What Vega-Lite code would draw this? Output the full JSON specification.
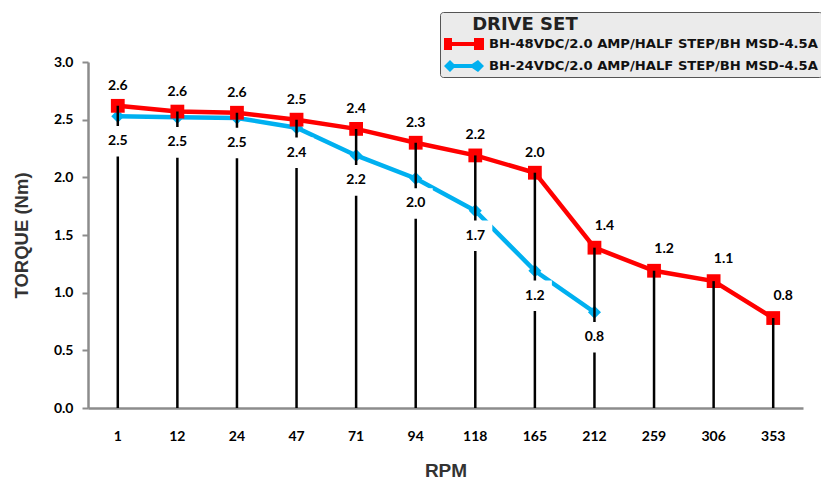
{
  "$schema": "https://vega.github.io/schema/vega-lite/v6.json",
  "width": 715,
  "height": 346,
  "autosize": {"type": "none"},
  "padding": {"left": 88, "top": 62, "right": 18, "bottom": 74},
  "background": "white",
  "config": {
    "view": {"stroke": null},
    "axis": {"grid": false}
  },
  "data": {
    "values": [
      {"rpm": "1", "series": "BH-48VDC/2.0 AMP/HALF STEP/BH MSD-4.5A", "torque": 2.62},
      {"rpm": "12", "series": "BH-48VDC/2.0 AMP/HALF STEP/BH MSD-4.5A", "torque": 2.57},
      {"rpm": "24", "series": "BH-48VDC/2.0 AMP/HALF STEP/BH MSD-4.5A", "torque": 2.56},
      {"rpm": "47", "series": "BH-48VDC/2.0 AMP/HALF STEP/BH MSD-4.5A", "torque": 2.5},
      {"rpm": "71", "series": "BH-48VDC/2.0 AMP/HALF STEP/BH MSD-4.5A", "torque": 2.42},
      {"rpm": "94", "series": "BH-48VDC/2.0 AMP/HALF STEP/BH MSD-4.5A", "torque": 2.3},
      {"rpm": "118", "series": "BH-48VDC/2.0 AMP/HALF STEP/BH MSD-4.5A", "torque": 2.19},
      {"rpm": "165", "series": "BH-48VDC/2.0 AMP/HALF STEP/BH MSD-4.5A", "torque": 2.04},
      {"rpm": "212", "series": "BH-48VDC/2.0 AMP/HALF STEP/BH MSD-4.5A", "torque": 1.39},
      {"rpm": "259", "series": "BH-48VDC/2.0 AMP/HALF STEP/BH MSD-4.5A", "torque": 1.19},
      {"rpm": "306", "series": "BH-48VDC/2.0 AMP/HALF STEP/BH MSD-4.5A", "torque": 1.1},
      {"rpm": "353", "series": "BH-48VDC/2.0 AMP/HALF STEP/BH MSD-4.5A", "torque": 0.78},
      {"rpm": "1", "series": "BH-24VDC/2.0 AMP/HALF STEP/BH MSD-4.5A", "torque": 2.53},
      {"rpm": "12", "series": "BH-24VDC/2.0 AMP/HALF STEP/BH MSD-4.5A", "torque": 2.52},
      {"rpm": "24", "series": "BH-24VDC/2.0 AMP/HALF STEP/BH MSD-4.5A", "torque": 2.515},
      {"rpm": "47", "series": "BH-24VDC/2.0 AMP/HALF STEP/BH MSD-4.5A", "torque": 2.43},
      {"rpm": "71", "series": "BH-24VDC/2.0 AMP/HALF STEP/BH MSD-4.5A", "torque": 2.19},
      {"rpm": "94", "series": "BH-24VDC/2.0 AMP/HALF STEP/BH MSD-4.5A", "torque": 1.99},
      {"rpm": "118", "series": "BH-24VDC/2.0 AMP/HALF STEP/BH MSD-4.5A", "torque": 1.71},
      {"rpm": "165", "series": "BH-24VDC/2.0 AMP/HALF STEP/BH MSD-4.5A", "torque": 1.19},
      {"rpm": "212", "series": "BH-24VDC/2.0 AMP/HALF STEP/BH MSD-4.5A", "torque": 0.83}
    ]
  },
  "encoding": {
    "x": {
      "field": "rpm",
      "type": "ordinal",
      "sort": ["1", "12", "24", "47", "71", "94", "118", "165", "212", "259", "306", "353"],
      "scale": {"type": "band", "paddingInner": 0, "paddingOuter": 0},
      "axis": {
        "title": "RPM",
        "labelAngle": 0,
        "ticks": false,
        "labelPadding": 21,
        "labelFont": "Lato",
        "labelFontWeight": "bold",
        "labelFontSize": 14,
        "labelColor": "#000000",
        "domainColor": "#8c8c8c",
        "domainWidth": 2.5,
        "titleFont": "Liberation Sans",
        "titleFontWeight": "bold",
        "titleFontSize": 19,
        "titleColor": "#333333",
        "titlePadding": 18
      }
    },
    "y": {
      "field": "torque",
      "type": "quantitative",
      "scale": {"domain": [0, 3], "nice": false},
      "axis": {
        "title": "TORQUE (Nm)",
        "values": [0, 0.5, 1, 1.5, 2, 2.5, 3],
        "format": ".1f",
        "tickSize": 6,
        "tickWidth": 2,
        "tickColor": "#8c8c8c",
        "domainColor": "#8c8c8c",
        "domainWidth": 2.5,
        "labelPadding": 9,
        "labelFont": "Lato",
        "labelFontWeight": "bold",
        "labelFontSize": 14,
        "labelColor": "#000000",
        "titleFont": "Liberation Sans",
        "titleFontWeight": "bold",
        "titleFontSize": 18.5,
        "titleColor": "#333333",
        "titlePadding": 22
      }
    }
  },
  "layer": [
    {
      "mark": {"type": "point", "filled": true, "size": 1, "opacity": 1},
      "encoding": {
        "color": {
          "field": "series",
          "type": "nominal",
          "scale": {
            "domain": ["BH-48VDC/2.0 AMP/HALF STEP/BH MSD-4.5A", "BH-24VDC/2.0 AMP/HALF STEP/BH MSD-4.5A"],
            "range": ["#ff0000", "#00b0f0"]
          },
          "legend": {
            "title": "\u2800\u2800DRIVE SET",
            "orient": "none",
            "legendX": 352,
            "legendY": -50,
            "padding": 4,
            "fillColor": "#ebebeb",
            "strokeColor": "#555555",
            "cornerRadius": 3,
            "titleFont": "DejaVu Sans",
            "titleFontWeight": "bold",
            "titleFontSize": 18,
            "titleColor": "#222222",
            "titlePadding": 0,
            "labelFont": "DejaVu Sans",
            "labelFontWeight": "bold",
            "labelFontSize": 13.15,
            "labelColor": "#111111",
            "labelLimit": 0,
            "labelOffset": 25,
            "symbolSize": 400,
            "symbolStrokeWidth": 0,
            "symbolOpacity": 1,
            "rowPadding": 5
          }
        },
        "shape": {
          "field": "series",
          "type": "nominal",
          "scale": {
            "domain": ["BH-48VDC/2.0 AMP/HALF STEP/BH MSD-4.5A", "BH-24VDC/2.0 AMP/HALF STEP/BH MSD-4.5A"],
            "range": [
              "M-1,-0.6H-0.2V-0.2H2V-0.6H3V0.6H2V0.2H-0.2V0.6H-1Z",
              "M-1,0L-0.4,-0.6L0,-0.2H1.8L2.4,-0.6L3,0L2.4,0.6L1.8,0.2H0L-0.4,0.6Z"
            ]
          }
        }
      }
    },
    {
      "mark": {"type": "line", "strokeWidth": 4.5},
      "encoding": {
        "color": {"field": "series", "type": "nominal", "legend": null}
      }
    },
    {
      "transform": [{"filter": "datum.series === 'BH-24VDC/2.0 AMP/HALF STEP/BH MSD-4.5A'"}],
      "mark": {"type": "point", "shape": "diamond", "filled": true, "size": 170, "color": "#00b0f0", "opacity": 1}
    },
    {
      "transform": [{"filter": "datum.series === 'BH-48VDC/2.0 AMP/HALF STEP/BH MSD-4.5A'"}],
      "mark": {"type": "point", "shape": "square", "filled": true, "size": 190, "color": "#ff0000", "opacity": 1}
    },
    {
      "transform": [{"filter": "datum.series === 'BH-48VDC/2.0 AMP/HALF STEP/BH MSD-4.5A'"}],
      "mark": {"type": "rule", "color": "#000000", "strokeWidth": 2.5},
      "encoding": {"y2": {"datum": 0}}
    },
    {
      "transform": [{"filter": "datum.series === 'BH-24VDC/2.0 AMP/HALF STEP/BH MSD-4.5A'"}],
      "mark": {"type": "point", "shape": "M-1,-0.9H1V0.9H-1Z", "filled": true, "size": 1156, "color": "#ffffff", "opacity": 1, "yOffset": 25}
    },
    {
      "transform": [{"filter": "datum.series === 'BH-24VDC/2.0 AMP/HALF STEP/BH MSD-4.5A'"}],
      "mark": {"type": "text", "font": "Lato", "fontWeight": "bold", "fontSize": 14, "color": "#000000", "baseline": "middle", "dy": 25},
      "encoding": {"text": {"field": "torque", "type": "quantitative", "format": ".1f"}}
    },
    {
      "transform": [
        {"filter": "datum.series === 'BH-48VDC/2.0 AMP/HALF STEP/BH MSD-4.5A'"},
        {"filter": {"field": "rpm", "oneOf": ["1", "12", "24", "47", "71", "94", "118", "165"]}}
      ],
      "mark": {"type": "text", "font": "Lato", "fontWeight": "bold", "fontSize": 14, "color": "#000000", "baseline": "middle", "dy": -20},
      "encoding": {"text": {"field": "torque", "type": "quantitative", "format": ".1f"}}
    },
    {
      "transform": [
        {"filter": "datum.series === 'BH-48VDC/2.0 AMP/HALF STEP/BH MSD-4.5A'"},
        {"filter": {"field": "rpm", "oneOf": ["212", "259", "306", "353"]}}
      ],
      "mark": {"type": "text", "font": "Lato", "fontWeight": "bold", "fontSize": 14, "color": "#000000", "baseline": "middle", "dy": -22, "dx": 10},
      "encoding": {"text": {"field": "torque", "type": "quantitative", "format": ".1f"}}
    }
  ]
}
